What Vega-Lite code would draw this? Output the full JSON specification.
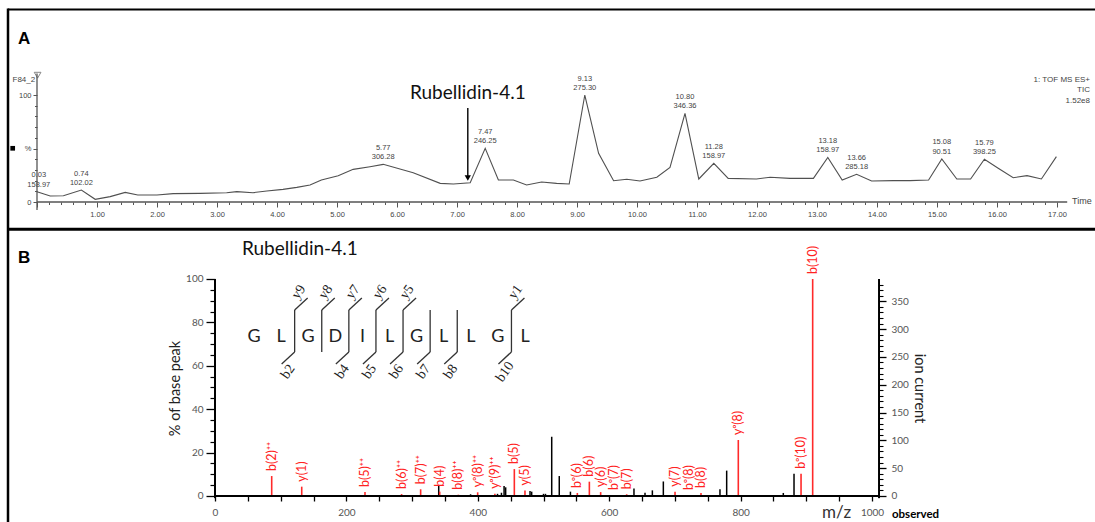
{
  "$schema": "https://vega.github.io/schema/vega-lite/v6.json",
  "width": 1095,
  "height": 522,
  "autosize": {"type": "none"},
  "padding": 0,
  "background": "white",
  "config": {
    "view": {"stroke": null},
    "axis": {"grid": false, "domain": false, "labelOverlap": false, "labelFlush": false, "labelBound": false}
  },
  "data": {"values": [{"k": 1}]},
  "datasets": {
    "tic": [
      {"t": 0.00, "v": 9.6}, {"t": 0.22, "v": 5.6}, {"t": 0.44, "v": 5.9}, {"t": 0.74, "v": 11.2},
      {"t": 0.97, "v": 2.5}, {"t": 1.22, "v": 5.0}, {"t": 1.47, "v": 9.0}, {"t": 1.68, "v": 6.5},
      {"t": 2.00, "v": 6.5}, {"t": 2.27, "v": 7.8}, {"t": 2.72, "v": 8.1}, {"t": 3.16, "v": 8.7},
      {"t": 3.33, "v": 9.7}, {"t": 3.60, "v": 8.7}, {"t": 3.83, "v": 10.3}, {"t": 4.10, "v": 11.8},
      {"t": 4.33, "v": 13.7}, {"t": 4.55, "v": 15.9}, {"t": 4.74, "v": 20.6}, {"t": 5.02, "v": 24.6},
      {"t": 5.27, "v": 30.5}, {"t": 5.55, "v": 33.0}, {"t": 5.77, "v": 35.2}, {"t": 6.27, "v": 27.4},
      {"t": 6.72, "v": 17.4}, {"t": 6.94, "v": 16.8}, {"t": 7.22, "v": 18.0}, {"t": 7.47, "v": 50.2},
      {"t": 7.69, "v": 20.6}, {"t": 7.94, "v": 20.6}, {"t": 8.16, "v": 15.9}, {"t": 8.41, "v": 18.7},
      {"t": 8.66, "v": 17.4}, {"t": 8.87, "v": 16.8}, {"t": 9.13, "v": 100}, {"t": 9.36, "v": 45.5},
      {"t": 9.61, "v": 19.9}, {"t": 9.83, "v": 21.2}, {"t": 10.05, "v": 19.6}, {"t": 10.33, "v": 23.1},
      {"t": 10.55, "v": 32.4}, {"t": 10.80, "v": 82.9}, {"t": 11.03, "v": 21.5}, {"t": 11.28, "v": 36.1},
      {"t": 11.52, "v": 22.1}, {"t": 11.99, "v": 21.5}, {"t": 12.22, "v": 23.1}, {"t": 12.55, "v": 22.1},
      {"t": 12.94, "v": 22.1}, {"t": 13.18, "v": 41.7}, {"t": 13.42, "v": 20.6}, {"t": 13.66, "v": 25.9},
      {"t": 13.91, "v": 19.6}, {"t": 14.27, "v": 20.0}, {"t": 14.55, "v": 20.0}, {"t": 14.86, "v": 20.6},
      {"t": 15.08, "v": 40.2}, {"t": 15.33, "v": 21.5}, {"t": 15.56, "v": 21.5}, {"t": 15.79, "v": 39.9},
      {"t": 16.02, "v": 31.5}, {"t": 16.27, "v": 22.7}, {"t": 16.50, "v": 24.6}, {"t": 16.74, "v": 21.5},
      {"t": 16.99, "v": 42.4}
    ],
    "ticpk": [
      {"rt": 0.03, "v": 9.6, "area": "158.97"},
      {"rt": 0.74, "v": 11.2, "area": "102.02"},
      {"rt": 5.77, "v": 35.2, "area": "306.28"},
      {"rt": 7.47, "v": 50.2, "area": "246.25"},
      {"rt": 9.13, "v": 100, "area": "275.30"},
      {"rt": 10.80, "v": 82.9, "area": "346.36"},
      {"rt": 11.28, "v": 36.1, "area": "158.97"},
      {"rt": 13.18, "v": 41.7, "area": "158.97"},
      {"rt": 13.66, "v": 25.9, "area": "285.18"},
      {"rt": 15.08, "v": 40.2, "area": "90.51"},
      {"rt": 15.79, "v": 39.9, "area": "398.25"}
    ],
    "red": [
      {"mz": 86.3, "pct": 9.2, "label": "b(2)⁺⁺"},
      {"mz": 132, "pct": 4.3, "label": "y(1)"},
      {"mz": 228.3, "pct": 1.8, "label": "b(5)⁺⁺"},
      {"mz": 284, "pct": 0.9, "label": "b(6)⁺⁺"},
      {"mz": 313, "pct": 3.1, "label": "b(7)⁺⁺"},
      {"mz": 342, "pct": 2.0, "label": "b(4)"},
      {"mz": 370.4, "pct": 0.6, "label": "b(8)⁺⁺"},
      {"mz": 399.8, "pct": 1.7, "label": "yᵒ(8)⁺⁺"},
      {"mz": 426, "pct": 1.0, "label": "yᵒ(9)⁺⁺"},
      {"mz": 455.6, "pct": 12.4, "label": "b(5)"},
      {"mz": 471.8, "pct": 2.5, "label": "y(5)"},
      {"mz": 551.5, "pct": 1.4, "label": "bᵒ(6)"},
      {"mz": 569.8, "pct": 6.6, "label": "b(6)"},
      {"mz": 587, "pct": 1.8, "label": "y(6)"},
      {"mz": 607.3, "pct": 0.5, "label": "bᵒ(7)"},
      {"mz": 626.6, "pct": 0.8, "label": "b(7)"},
      {"mz": 700.2, "pct": 2.0, "label": "y(7)"},
      {"mz": 721.5, "pct": 0.5, "label": "bᵒ(8)"},
      {"mz": 739.7, "pct": 1.4, "label": "b(8)"},
      {"mz": 796.5, "pct": 25.8, "label": "yᵒ(8)"},
      {"mz": 892, "pct": 10.3, "label": "bᵒ(10)"},
      {"mz": 909.7, "pct": 100, "label": "b(10)"}
    ],
    "black": [
      {"mz": 340.5, "pct": 5.0}, {"mz": 389, "pct": 0.8}, {"mz": 430, "pct": 1.0}, {"mz": 436, "pct": 1.5},
      {"mz": 440, "pct": 4.6}, {"mz": 442.4, "pct": 4.0}, {"mz": 479.5, "pct": 2.3}, {"mz": 482, "pct": 2.0},
      {"mz": 500, "pct": 1.0}, {"mz": 503, "pct": 1.0}, {"mz": 512.5, "pct": 27.3}, {"mz": 524, "pct": 9.2},
      {"mz": 541, "pct": 2.0}, {"mz": 637.7, "pct": 3.5}, {"mz": 654.5, "pct": 1.5}, {"mz": 665.7, "pct": 2.6},
      {"mz": 682.4, "pct": 6.7}, {"mz": 768.6, "pct": 3.1}, {"mz": 778.8, "pct": 11.7}, {"mz": 865, "pct": 1.4},
      {"mz": 881.3, "pct": 10.3}
    ],
    "seq": [
      {"pos": 1, "aa": "G"}, {"pos": 2, "aa": "L"}, {"pos": 3, "aa": "G"}, {"pos": 4, "aa": "D"},
      {"pos": 5, "aa": "I"}, {"pos": 6, "aa": "L"}, {"pos": 7, "aa": "G"}, {"pos": 8, "aa": "L"},
      {"pos": 9, "aa": "L"}, {"pos": 10, "aa": "G"}, {"pos": 11, "aa": "L"}
    ],
    "cuts": [
      {"cut": 2.5, "yion": "y9", "bion": "b2"},
      {"cut": 3.5, "yion": "y8", "bion": null},
      {"cut": 4.5, "yion": "y7", "bion": "b4"},
      {"cut": 5.5, "yion": "y6", "bion": "b5"},
      {"cut": 6.5, "yion": "y5", "bion": "b6"},
      {"cut": 7.5, "yion": null, "bion": "b7"},
      {"cut": 8.5, "yion": null, "bion": "b8"},
      {"cut": 10.5, "yion": "y1", "bion": "b10"}
    ]
  },
  "layer": [
    {
      "layer": [
        {
          "data": {"name": "tic"},
          "mark": {"type": "line", "color": "#505050", "strokeWidth": 1.1},
          "encoding": {
            "x": {"field": "t", "type": "quantitative",
              "scale": {"domain": [-0.61667, 17.63333], "nice": false, "zero": false},
              "axis": {"orient": "bottom", "offset": -320, "title": null,
                "values": [0,1,2,3,4,5,6,7,8,9,10,11,12,13,14,15,16,17], "format": ".2f",
                "labelExpr": "datum.value == 0 ? '' : datum.label",
                "tickSize": 5, "tickColor": "#555555", "labelColor": "#444444",
                "labelFont": "Liberation Sans", "labelFontSize": 7.5, "labelPadding": 3}},
            "y": {"field": "v", "type": "quantitative",
              "scale": {"domain": [-299.07, 188.79], "nice": false, "zero": false},
              "axis": {"orient": "left", "offset": -37, "title": null, "values": [0, 50, 100],
                "labelExpr": "datum.value == 50 ? '%' : datum.label",
                "tickSize": 4, "tickColor": "#555555", "labelColor": "#444444",
                "labelFont": "Liberation Sans", "labelFontSize": 7.5, "labelPadding": 2}}
          }
        },
        {
          "data": {"name": "ticpk"},
          "mark": {"type": "text", "baseline": "bottom", "dy": -12.5, "font": "Liberation Sans", "fontSize": 7.5, "color": "#444444"},
          "encoding": {
            "x": {"field": "rt", "type": "quantitative"},
            "y": {"field": "v", "type": "quantitative"},
            "text": {"field": "rt", "type": "quantitative", "format": ".2f"}
          }
        },
        {
          "data": {"name": "ticpk"},
          "mark": {"type": "text", "baseline": "bottom", "dy": -3, "font": "Liberation Sans", "fontSize": 7.5, "color": "#444444"},
          "encoding": {
            "x": {"field": "rt", "type": "quantitative"},
            "y": {"field": "v", "type": "quantitative"},
            "text": {"field": "area", "type": "nominal"}
          }
        },
        {
          "mark": {"type": "rule", "color": "#555555", "strokeWidth": 1.3},
          "encoding": {"x": {"datum": 0}, "x2": {"datum": 17.17}, "y": {"datum": 0}}
        },
        {
          "mark": {"type": "rule", "color": "#555555", "strokeWidth": 1.3},
          "encoding": {"x": {"datum": 0}, "y": {"datum": -7.5}, "y2": {"datum": 120}}
        },
        {
          "mark": {"type": "point", "shape": "triangle-down", "filled": false, "color": "#555555", "size": 45, "strokeWidth": 1},
          "encoding": {"x": {"datum": 0.01}, "y": {"datum": 118.5}}
        },
        {
          "mark": {"type": "point", "shape": "square", "filled": true, "color": "#000000", "size": 22, "opacity": 1},
          "encoding": {"x": {"datum": -0.405}, "y": {"datum": 50.2}}
        },
        {
          "mark": {"type": "rule", "color": "#000000", "strokeWidth": 1.4},
          "encoding": {"x": {"datum": 7.18}, "y": {"datum": 87.9}, "y2": {"datum": 23}}
        },
        {
          "mark": {"type": "point", "shape": "triangle-down", "filled": true, "color": "#000000", "size": 40, "opacity": 1},
          "encoding": {"x": {"datum": 7.18}, "y": {"datum": 22.4}}
        },
        {
          "mark": {"type": "text", "text": "Rubellidin-4.1", "align": "left", "baseline": "alphabetic", "font": "Lato", "fontSize": 19, "color": "#111111"},
          "encoding": {"x": {"datum": 6.2167}, "y": {"datum": 96.26}}
        },
        {
          "mark": {"type": "text", "text": "F84_2", "align": "right", "baseline": "alphabetic", "font": "Liberation Sans", "fontSize": 8, "color": "#444444"},
          "encoding": {"x": {"datum": -0.03}, "y": {"datum": 112.1}}
        },
        {
          "mark": {"type": "text", "text": "1: TOF MS ES+", "align": "right", "baseline": "middle", "font": "Liberation Sans", "fontSize": 8, "color": "#444444"},
          "encoding": {"x": {"datum": 17.55}, "y": {"datum": 114.3}}
        },
        {
          "mark": {"type": "text", "text": "TIC", "align": "right", "baseline": "middle", "font": "Liberation Sans", "fontSize": 8, "color": "#444444"},
          "encoding": {"x": {"datum": 17.55}, "y": {"datum": 104.4}}
        },
        {
          "mark": {"type": "text", "text": "1.52e8", "align": "right", "baseline": "middle", "font": "Liberation Sans", "fontSize": 8, "color": "#444444"},
          "encoding": {"x": {"datum": 17.55}, "y": {"datum": 94.4}}
        },
        {
          "mark": {"type": "text", "text": "Time", "align": "left", "baseline": "middle", "font": "Liberation Sans", "fontSize": 9, "color": "#444444"},
          "encoding": {"x": {"datum": 17.25}, "y": {"datum": 0.5}}
        },
        {
          "mark": {"type": "text", "text": "A", "align": "left", "baseline": "alphabetic", "font": "Liberation Sans", "fontSize": 17, "fontWeight": "bold", "color": "#000000"},
          "encoding": {"x": {"datum": -0.3167}, "y": {"datum": 147.7}}
        },
        {
          "mark": {"type": "rule", "color": "#000000", "strokeWidth": 2},
          "encoding": {"x": {"datum": -0.4833}, "x2": {"datum": 17.7}, "y": {"datum": 179.9}}
        },
        {
          "mark": {"type": "rule", "color": "#000000", "strokeWidth": 3},
          "encoding": {"x": {"datum": -0.4833}, "x2": {"datum": 17.7}, "y": {"datum": -25.4}}
        },
        {
          "mark": {"type": "rule", "color": "#000000", "strokeWidth": 2.5},
          "encoding": {"x": {"datum": -0.4833}, "y": {"datum": 180.8}, "y2": {"datum": -299.07}}
        }
      ]
    },
    {
      "mark": {"type": "point", "opacity": 0},
      "encoding": {
        "x": {"datum": 0, "type": "quantitative",
          "scale": {"domain": [-0.61667, 17.63333], "nice": false, "zero": false},
          "axis": {"orient": "bottom", "offset": -320, "title": null, "labels": false, "tickSize": 2.5, "tickColor": "#555555",
            "values": [0.2,0.4,0.6,0.8,1.2,1.4,1.6,1.8,2.2,2.4,2.6,2.8,3.2,3.4,3.6,3.8,4.2,4.4,4.6,4.8,5.2,5.4,5.6,5.8,6.2,6.4,6.6,6.8,7.2,7.4,7.6,7.8,8.2,8.4,8.6,8.8,9.2,9.4,9.6,9.8,10.2,10.4,10.6,10.8,11.2,11.4,11.6,11.8,12.2,12.4,12.6,12.8,13.2,13.4,13.6,13.8,14.2,14.4,14.6,14.8,15.2,15.4,15.6,15.8,16.2,16.4,16.6,16.8]}}
      }
    },
    {
      "mark": {"type": "point", "opacity": 0},
      "encoding": {
        "y": {"datum": 0, "type": "quantitative",
          "scale": {"domain": [-299.07, 188.79], "nice": false, "zero": false},
          "axis": {"orient": "left", "offset": -37, "title": null, "labels": false, "tickSize": 2.5, "tickColor": "#555555",
            "values": [10, 20, 30, 40, 60, 70, 80, 90]}}
      }
    },
    {
      "layer": [
        {
          "data": {"name": "black"},
          "mark": {"type": "rule", "color": "#000000", "strokeWidth": 1.5},
          "encoding": {
            "x": {"field": "mz", "type": "quantitative",
              "scale": {"domain": [-327.25, 1339.42], "nice": false, "zero": false},
              "axis": {"orient": "bottom", "offset": -26, "title": null, "format": "d",
                "values": [0,50,100,150,200,250,300,350,400,450,500,550,600,650,700,750,800,850,900,950,1000],
                "labelExpr": "datum.value % 200 == 0 ? datum.label : ''",
                "tickSize": 5, "tickWidth": 1.3, "tickColor": "#000000", "labelColor": "#555555",
                "labelFont": "Lato", "labelFontSize": 10, "labelPadding": 6}},
            "y": {"field": "pct", "type": "quantitative",
              "scale": {"domain": [-11.982, 228.571], "nice": false, "zero": false},
              "axis": {"orient": "left", "offset": -215, "title": "% of base peak",
                "values": [0, 20, 40, 60, 80, 100],
                "tickSize": 9, "tickWidth": 1.3, "tickColor": "#000000", "labelColor": "#555555",
                "labelFont": "Lato", "labelFontSize": 10, "labelPadding": 3,
                "titleFont": "Lato", "titleFontSize": 14.5, "titleFontWeight": "normal", "titleColor": "#222222",
                "titleX": -40, "titleY": 388, "titleAngle": 270, "titleAlign": "center", "titleBaseline": "middle"}},
            "y2": {"datum": 0}
          }
        },
        {
          "data": {"name": "red"},
          "mark": {"type": "rule", "color": "#ff2a2a", "strokeWidth": 1.6},
          "encoding": {
            "x": {"field": "mz", "type": "quantitative"},
            "y": {"field": "pct", "type": "quantitative"},
            "y2": {"datum": 0}
          }
        },
        {
          "data": {"name": "red"},
          "mark": {"type": "text", "angle": 270, "align": "left", "baseline": "middle", "dx": 5, "dy": 0, "font": "Lato", "fontSize": 12.5, "color": "#ff2222"},
          "encoding": {
            "x": {"field": "mz", "type": "quantitative"},
            "y": {"field": "pct", "type": "quantitative"},
            "text": {"field": "label", "type": "nominal"}
          }
        },
        {
          "mark": {"type": "rule", "color": "#000000", "strokeWidth": 2},
          "encoding": {"x": {"datum": 0}, "x2": {"datum": 1010.7}, "y": {"datum": 0}}
        },
        {
          "mark": {"type": "rule", "color": "#000000", "strokeWidth": 2},
          "encoding": {"x": {"datum": 0}, "y": {"datum": -1}, "y2": {"datum": 100}}
        },
        {
          "mark": {"type": "rule", "color": "#000000", "strokeWidth": 2},
          "encoding": {"x": {"datum": 1010.7}, "y": {"datum": -1}, "y2": {"datum": 100}}
        },
        {
          "mark": {"type": "text", "text": "B", "align": "left", "baseline": "alphabetic", "font": "Liberation Sans", "fontSize": 17, "fontWeight": "bold", "color": "#000000"},
          "encoding": {"x": {"datum": -299.85}, "y": {"datum": 107.37}}
        },
        {
          "mark": {"type": "text", "text": "Rubellidin-4.1", "align": "left", "baseline": "alphabetic", "font": "Lato", "fontSize": 19, "color": "#111111"},
          "encoding": {"x": {"datum": 41.1}, "y": {"datum": 111.06}}
        },
        {
          "mark": {"type": "text", "text": "m/z", "align": "left", "baseline": "alphabetic", "font": "Lato", "fontSize": 17, "color": "#333333"},
          "encoding": {"x": {"datum": 923.9}, "y": {"datum": -10.14}}
        },
        {
          "mark": {"type": "text", "text": "observed", "align": "left", "baseline": "alphabetic", "font": "Lato", "fontSize": 11.5, "fontWeight": "bold", "color": "#000000"},
          "encoding": {"x": {"datum": 1030.4}, "y": {"datum": -10.14}}
        }
      ]
    },
    {
      "mark": {"type": "point", "opacity": 0},
      "encoding": {
        "y": {"datum": 0, "type": "quantitative",
          "scale": {"domain": [-11.982, 228.571], "nice": false, "zero": false},
          "axis": {"orient": "left", "offset": -215, "title": null, "labels": false, "tickSize": 5, "tickWidth": 1.2, "tickColor": "#000000",
            "values": [5,10,15,25,30,35,45,50,55,65,70,75,85,90,95]}}
      }
    },
    {
      "mark": {"type": "point", "opacity": 0},
      "encoding": {
        "y": {"datum": 0, "type": "quantitative",
          "scale": {"domain": [-46.73, 891.43], "nice": false, "zero": false},
          "axis": {"orient": "right", "offset": -216, "title": "ion current",
            "values": [0, 50, 100, 150, 200, 250, 300, 350],
            "tickSize": 7, "tickWidth": 1.3, "tickColor": "#000000", "labelColor": "#555555",
            "labelFont": "Lato", "labelFontSize": 10, "labelPadding": 5,
            "titleFont": "Lato", "titleFontSize": 14.5, "titleFontWeight": "normal", "titleColor": "#222222",
            "titleX": 39, "titleY": 388, "titleAngle": 90, "titleAlign": "center", "titleBaseline": "middle"}}
      }
    },
    {
      "mark": {"type": "point", "opacity": 0},
      "encoding": {
        "y": {"datum": 0, "type": "quantitative",
          "scale": {"domain": [-46.73, 891.43], "nice": false, "zero": false},
          "axis": {"orient": "right", "offset": -216, "title": null, "labels": false, "tickSize": 4, "tickWidth": 1.1, "tickColor": "#000000",
            "values": [10,20,30,40,60,70,80,90,110,120,130,140,160,170,180,190,210,220,230,240,260,270,280,290,310,320,330,340,360,370,380]}}
      }
    },
    {
      "layer": [
        {
          "data": {"name": "seq"},
          "mark": {"type": "text", "align": "center", "baseline": "middle", "font": "Lato", "fontSize": 18, "color": "#222222"},
          "encoding": {
            "x": {"field": "pos", "type": "quantitative", "scale": {"domain": [-8.3727, 32.0332], "nice": false, "zero": false}, "axis": null},
            "y": {"datum": 73.3, "type": "quantitative", "scale": {"domain": [-11.982, 228.571], "nice": false, "zero": false}, "axis": null},
            "text": {"field": "aa", "type": "nominal"}
          }
        },
        {
          "data": {"name": "cuts"},
          "mark": {"type": "rule", "color": "#333333", "strokeWidth": 1.3},
          "encoding": {
            "x": {"field": "cut", "type": "quantitative", "axis": null},
            "y": {"datum": 85.7, "axis": null},
            "y2": {"datum": 66.4}
          }
        },
        {
          "data": {"name": "cuts"},
          "transform": [{"filter": "datum.yion != null"}],
          "mark": {"type": "rule", "color": "#333333", "strokeWidth": 1.3, "x2Offset": 13, "y2Offset": -12},
          "encoding": {
            "x": {"field": "cut", "type": "quantitative", "axis": null},
            "x2": {"field": "cut"},
            "y": {"datum": 85.7, "axis": null},
            "y2": {"datum": 85.7}
          }
        },
        {
          "data": {"name": "cuts"},
          "transform": [{"filter": "datum.bion != null"}],
          "mark": {"type": "rule", "color": "#333333", "strokeWidth": 1.3, "x2Offset": -13, "y2Offset": 12},
          "encoding": {
            "x": {"field": "cut", "type": "quantitative", "axis": null},
            "x2": {"field": "cut"},
            "y": {"datum": 66.4, "axis": null},
            "y2": {"datum": 66.4}
          }
        },
        {
          "data": {"name": "cuts"},
          "transform": [{"filter": "datum.yion != null"}],
          "mark": {"type": "text", "angle": 305, "align": "center", "baseline": "middle", "dx": 17, "dy": -7, "font": "Liberation Serif", "fontSize": 14, "color": "#222222"},
          "encoding": {
            "x": {"field": "cut", "type": "quantitative", "axis": null},
            "y": {"datum": 85.7, "axis": null},
            "text": {"field": "yion", "type": "nominal"}
          }
        },
        {
          "data": {"name": "cuts"},
          "transform": [{"filter": "datum.bion != null"}],
          "mark": {"type": "text", "angle": 305, "align": "center", "baseline": "middle", "dx": -20, "dy": 6, "font": "Liberation Serif", "fontSize": 14, "color": "#222222"},
          "encoding": {
            "x": {"field": "cut", "type": "quantitative", "axis": null},
            "y": {"datum": 66.4, "axis": null},
            "text": {"field": "bion", "type": "nominal"}
          }
        }
      ]
    }
  ],
  "resolve": {
    "scale": {"x": "independent", "y": "independent"},
    "axis": {"x": "independent", "y": "independent"}
  }
}
